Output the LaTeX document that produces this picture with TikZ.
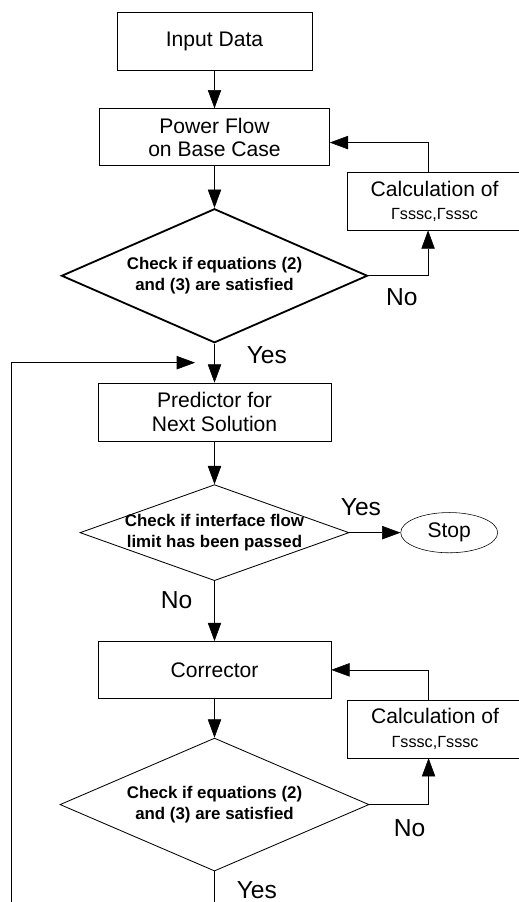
\documentclass[tikz,border=0pt]{standalone}
\usepackage{fontspec}
\setmainfont{Liberation Sans}
\usetikzlibrary{shapes.geometric,arrows.meta}
\usetikzlibrary{positioning}
\tikzset{>={Triangle[length=13pt,width=9.5pt]}, node distance=1cm, line width=1pt, font=\fontsize{15}{16.5}\selectfont}
\tikzstyle{block} = [draw, fill=white, rectangle, minimum height=1.45cm, text centered, align=center]
\tikzstyle{decision} = [draw, diamond, inner sep=0pt, line width=0.6pt]
\tikzstyle{check} = [align=center, font=\fontsize{12}{14.8}\selectfont\bfseries]
\tikzstyle{stopnode} = [draw, ellipse, minimum width=2.425cm, minimum height=0.95cm]
\tikzstyle{answer} = [inner sep=0pt, font=\fontsize{17.5}{17.5}\selectfont]
\newcommand{\calctext}{Calculation of\\{\fontsize{11.5}{13}\selectfont Γsssc,Γsssc}}

\begin{document}
\begin{tikzpicture}
    \useasboundingbox (0,0) rectangle (12.95,-22.55);
    \node [block, minimum width=4.875cm] (input) at (5.3625,-1.025) {Input Data};
    \node [block, below=.95cm of input, minimum width=5.75cm, minimum height=1.425cm] (power) {Power Flow\\on Base Case};
    \node [block, below right=.15cm and .425cm of power, minimum width=4.375cm] (calc_pf) {\calctext};
    \node [decision, below=1.05cm of power, minimum width=7.65cm, minimum height=3.35cm, line width=1.3pt,
           label={[check]center:Check if equations (2)\\and (3) are satisfied}] (check_pf) {};
    \node [block, below=.975cm of check_pf, minimum width=5.825cm] (predictor) {Predictor for\\Next Solution};
    \coordinate [below left=.475cm and .4875cm of check_pf.south] (loop_in);
    \node [decision, below=1.075cm of predictor, minimum width=6.725cm, minimum height=2.4cm,
           label={[check]center:Check if interface flow\\limit has been passed}] (check_limit) {};
    \node [stopnode, right=1.275cm of check_limit] (stop) {Stop};
    \node [block, below=1.5cm of check_limit, minimum width=5.825cm, minimum height=1.425cm] (corrector) {Corrector};
    \node [block, below right=.025cm and .4cm of corrector, minimum width=4.375cm] (calc_corr) {\calctext};
    \node [decision, below=.975cm of corrector, minimum width=7.725cm, minimum height=3.325cm,
           label={[check]center:Check if equations (2)\\and (3) are satisfied}] (check_corr) {};

    \draw [->] (input) -- (power);
    \draw [->] (power) -- (check_pf);
    \draw [->] (check_pf.east) -| node [answer, pos=0.28, below=.325cm] {No} ([xshift=-.1625cm]calc_pf.south);
    \draw [->] ([xshift=-.1625cm]calc_pf.north) |- ([yshift=-.1375cm]power.east);
    \draw [->] (check_pf.south) -- node [answer, pos=0.29, right=.8cm] {Yes} (predictor);
    \draw [->] (predictor) -- (check_limit);
    \draw [->] (check_limit.east) -- node [answer, pos=0.225, above=.425cm] {Yes} (stop);
    \draw [->] (check_limit.south) -- node [answer, pos=0.32, left=.55cm] {No} (corrector);
    \draw [->] (corrector) -- (check_corr);
    \draw [->] (check_corr.east) -| node [answer, pos=0.34, below=.375cm] {No} ([xshift=-.1625cm]calc_corr.south);
    \draw [->] ([xshift=-.1625cm]calc_corr.north) |- (corrector.east);
    \draw [->] (check_corr.south) -- node [answer, pos=0.38, right=.55cm] {Yes} ++ (0,-1.2) -- ++ (-5.0875,0) |- (loop_in);
\end{tikzpicture}
\end{document}
